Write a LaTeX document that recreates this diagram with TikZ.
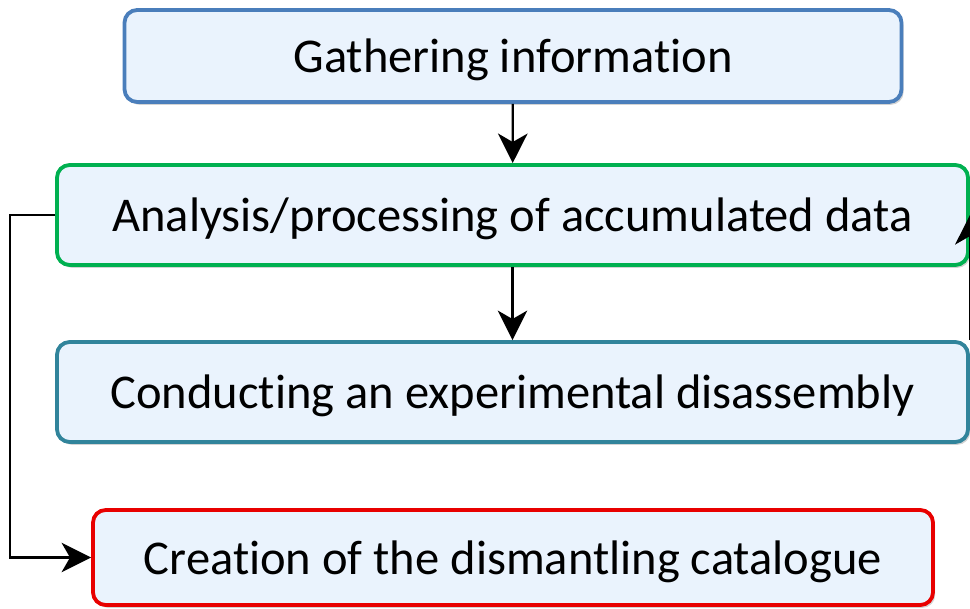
\documentclass[tikz,border=0pt]{standalone}
\usepackage{fontspec}
\setmainfont{Carlito}[Ligatures=NoCommon]
\usetikzlibrary{arrows.meta, positioning, shadows}

\definecolor{boxfill}{HTML}{EAF3FD}
\definecolor{gatherblue}{HTML}{4A7EBB}
\definecolor{analysisgreen}{HTML}{00B050}
\definecolor{conductteal}{HTML}{31849B}
\definecolor{catalogred}{HTML}{E80000}

\begin{document}
\begin{tikzpicture}[
        x=0.025cm, y=-0.025cm,
        stage/.style={draw, line width=2.7pt, rounded corners=9pt, fill=boxfill,
            drop shadow={shadow xshift=1.5pt, shadow yshift=-2pt, opacity=0.35},
            align=center, font=\fontsize{34.5}{40}\selectfont, inner sep=0pt,
            text depth=0pt},
        arrow/.style={-{Stealth[length=21pt, width=21pt, inset=6pt]}, line width=1.6pt}
        ]
        \useasboundingbox (0,0) rectangle (970,609);

        % Stages of the process
        \node[stage, draw=gatherblue, minimum width=777*0.025cm, minimum height=92*0.025cm]
            (gather) at (513,56) {Gathering information};
        \node[stage, draw=analysisgreen, minimum width=911*0.025cm, minimum height=100*0.025cm]
            (analysis) at (512.5,215) {Analysis/processing of accumulated data};
        \node[stage, draw=conductteal, minimum width=911*0.025cm, minimum height=100*0.025cm]
            (conduct) at (512.5,392) {Conducting an experimental disassembly};
        \node[stage, draw=catalogred, minimum width=840*0.025cm, minimum height=95*0.025cm]
            (catalog) at (513,557.5) {Creation of the dismantling catalogue};

        % Connections
        \draw [arrow] (gather) -- (analysis);
        \draw [arrow] (analysis) -- (conduct);
        \draw [arrow] (analysis.west) -- ++(-45,0) |- (catalog.west);
        \draw [arrow] (conduct.north east) -- (analysis.east);

    \end{tikzpicture}
\end{document}
